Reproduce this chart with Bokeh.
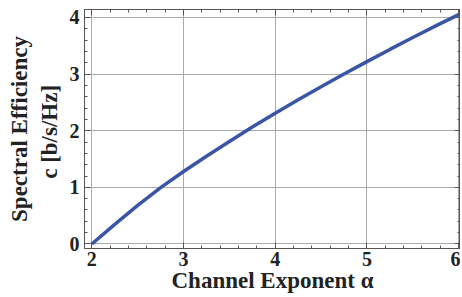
from bokeh.plotting import figure
from bokeh.models import LinearAxis, Range1d, FixedTicker
from bokeh.embed import file_html
from bokeh.resources import INLINE

alpha = [2, 2.25, 2.5, 2.75, 3, 3.25, 3.5, 3.75, 4, 4.25, 4.5, 4.75, 5, 5.25, 5.5, 5.75, 6]
efficiency = [0, 0.345, 0.68, 0.995, 1.28, 1.55, 1.81, 2.065, 2.31, 2.545, 2.775, 3.0, 3.22,
              3.435, 3.645, 3.85, 4.05]
x_ticks = [2, 3, 4, 5, 6]
y_ticks = [0, 1, 2, 3, 4]
x_minor = [2 + 0.2 * i for i in range(-1, 22)]
y_minor = [0.2 * i for i in range(-1, 22)]

FONT = "Liberation Serif"
TXT = "#222222"
FRAME = "#555555"

p = figure(width=460, height=295, output_backend="svg", toolbar_location=None,
           x_range=Range1d(1.92, 6.02), y_range=Range1d(-0.08, 4.14),
           min_border_left=84, min_border_right=0, min_border_top=9, min_border_bottom=0,
           x_axis_label="Channel Exponent α",
           y_axis_label="Spectral Efficiency\nc  [b/s/Hz]")

p.line(alpha, efficiency, line_color="#3a55a6", line_width=3.5)

p.outline_line_color = FRAME
p.outline_line_width = 1

for ax, ticks, minor in ((p.xaxis[0], x_ticks, x_minor), (p.yaxis[0], y_ticks, y_minor)):
    ax.ticker = FixedTicker(ticks=ticks, minor_ticks=minor)
    ax.major_tick_in = 6
    ax.major_tick_out = 0
    ax.minor_tick_in = 3
    ax.minor_tick_out = 0
    ax.axis_line_color = FRAME
    ax.major_tick_line_color = FRAME
    ax.minor_tick_line_color = FRAME
    ax.major_label_text_font = FONT
    ax.major_label_text_font_style = "bold"
    ax.major_label_text_font_size = "20px"
    ax.major_label_text_color = TXT
    ax.axis_label_text_font = FONT
    ax.axis_label_text_font_style = "bold"
    ax.axis_label_text_font_size = "23px"
    ax.axis_label_text_color = TXT

p.xaxis[0].major_label_standoff = 3
p.xaxis[0].axis_label_standoff = -1
p.yaxis[0].major_label_standoff = 5
p.yaxis[0].axis_label_standoff = 5

for loc, ticks, minor in (("above", x_ticks, x_minor), ("right", y_ticks, y_minor)):
    a = LinearAxis(ticker=FixedTicker(ticks=ticks, minor_ticks=minor),
                   major_tick_in=6, major_tick_out=0, minor_tick_in=3, minor_tick_out=0,
                   major_label_overrides={t: "" for t in ticks},
                   major_label_text_font_size="1px", major_label_standoff=0,
                   axis_line_color=FRAME, major_tick_line_color=FRAME, minor_tick_line_color=FRAME)
    p.add_layout(a, loc)

p.xgrid.ticker = FixedTicker(ticks=x_ticks)
p.ygrid.ticker = FixedTicker(ticks=y_ticks)
p.grid.grid_line_color = "#aaaaaa"
p.grid.grid_line_width = 1
p.background_fill_color = "white"
p.border_fill_color = "white"

open("out.html", "w").write(file_html(p, INLINE))
